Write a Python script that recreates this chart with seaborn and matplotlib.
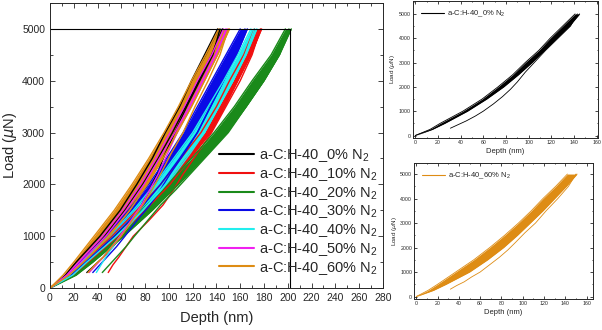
import numpy as np
import pandas as pd

import matplotlib.pyplot as plt
from matplotlib.lines import Line2D
from matplotlib.ticker import MultipleLocator

import seaborn as sns

# nitrogen content of each film and its colour
SAMPLES = ['0%', '10%', '20%', '30%', '40%', '50%', '60%']
COLORS = ['#000000', '#f01010', '#1a8a1a', '#0a0ae6', '#22eeee', '#f020f0', '#de8c14']

# loading branch: load steps (uN) and the left / right edge of each band (nm)
LOAD_UP = [0, 250, 500, 1000, 1500, 2000, 2500, 3000, 3500, 4000, 4500, 5000]
UP_LEFT = {
    '0%':  [0, 13, 22, 42, 59, 73, 86, 97, 109, 119, 130, 141],
    '10%': [0, 16, 28, 52, 73, 93, 110, 127, 140, 151, 163, 172],
    '20%': [0, 18, 31, 54, 77, 98, 119, 138, 155, 170, 186, 198],
    '30%': [0, 15, 25, 47, 66, 83, 98, 112, 124, 136, 148, 160],
    '40%': [0, 16, 27, 50, 70, 88, 104, 120, 133, 146, 158, 169],
    '50%': [0, 14, 24, 44, 61, 76, 89, 101, 113, 124, 136, 146],
    '60%': [0, 11, 20, 37, 54, 69, 83, 96, 108, 119, 131, 142],
}
UP_RIGHT = {
    '0%':  [0, 15, 26, 46, 63, 78, 91, 103, 114, 125, 136, 145],
    '10%': [0, 19, 32, 57, 80, 101, 118, 135, 147, 158, 169, 178],
    '20%': [0, 22, 36, 62, 86, 108, 129, 149, 165, 180, 193, 203],
    '30%': [0, 18, 30, 54, 75, 93, 109, 124, 135, 146, 157, 166],
    '40%': [0, 19, 31, 56, 78, 97, 113, 130, 142, 154, 165, 174],
    '50%': [0, 15, 26, 47, 64, 79, 92, 105, 117, 128, 139, 149],
    '60%': [0, 16, 28, 50, 67, 82, 95, 107, 119, 130, 141, 151],
}

# unloading branch
LOAD_DOWN = [5000, 4500, 4000, 3500, 3000, 2600, 2200, 1900, 1600, 1300,
             1000, 800, 600, 450, 300]
DOWN = {
    '0%':  [143, 137, 126, 115, 105, 97, 90, 84, 77, 69, 60, 53, 45, 38, 31],
    '10%': [177, 170, 160, 148, 136, 124, 112, 104, 95, 83, 70, 64, 58, 53, 49],
    '20%': [201, 193, 180, 165, 150, 134, 118, 106, 93, 82, 71, 64, 56, 50, 44],
    '30%': [164, 156, 146, 135, 124, 113, 101, 93, 84, 73, 63, 56, 48, 42, 36],
    '40%': [172, 164, 154, 142, 130, 118, 105, 94, 82, 70, 59, 53, 47, 43, 39],
    '50%': [148, 140, 129, 118, 107, 99, 91, 84, 77, 68, 59, 52, 45, 39, 33],
    '60%': [150, 143, 133, 122, 112, 102, 93, 86, 78, 69, 60, 52, 45, 38, 32],
}

MAX_LOAD = 5000
BOX_DEPTH = 202


def label(s):
    return 'a-C:H-40_' + s + ' N$_2$'


def curves(sample):
    rows = []
    for name, depth, load in [('left', UP_LEFT[sample], LOAD_UP),
                              ('right', UP_RIGHT[sample], LOAD_UP),
                              ('down', DOWN[sample], LOAD_DOWN)]:
        for d, p in zip(depth, load):
            rows.append({'sample': sample, 'curve': sample + name,
                         'depth': d, 'load': p})
    return pd.DataFrame(rows)


def draw(ax, samples, lw):
    for s in samples:
        c = COLORS[SAMPLES.index(s)]
        ax.fill_betweenx(LOAD_UP, UP_LEFT[s], UP_RIGHT[s], color=c, lw=0)
        sns.lineplot(data=curves(s), x='depth', y='load', units='curve',
                     estimator=None, sort=False, color=c, lw=lw, ax=ax,
                     legend=False)


def style(ax, size):
    ax.tick_params(which='both', direction='in', top=True, right=True,
                   labelsize=size, width=0.6)
    ax.tick_params(which='major', length=3.5)
    ax.tick_params(which='minor', length=2)
    for sp in ax.spines.values():
        sp.set_linewidth(0.7)


def main():
    sns.set_theme(style='ticks')
    plt.rcParams['font.family'] = ['Liberation Sans', 'DejaVu Sans']
    plt.rcParams['mathtext.fontset'] = 'custom'
    plt.rcParams['mathtext.rm'] = 'Liberation Sans'

    fig = plt.figure(figsize=(6.02, 3.30), dpi=100)

    # main panel
    ax = fig.add_axes([0.083, 0.127, 0.553, 0.864])
    draw(ax, SAMPLES, 1.0)
    box = pd.DataFrame({'depth': [0, BOX_DEPTH, BOX_DEPTH],
                        'load': [MAX_LOAD, MAX_LOAD, 0], 'u': [0, 0, 0]})
    sns.lineplot(data=box, x='depth', y='load', units='u', estimator=None,
                 sort=False, color='black', lw=0.8, ax=ax, legend=False)
    ax.set_xlim(0, 280)
    ax.set_ylim(0, 5500)
    ax.xaxis.set_major_locator(MultipleLocator(20))
    ax.xaxis.set_minor_locator(MultipleLocator(10))
    ax.yaxis.set_major_locator(MultipleLocator(1000))
    ax.yaxis.set_minor_locator(MultipleLocator(500))
    ax.set_xlabel('Depth (nm)', fontsize=10.5, labelpad=6)
    ax.set_ylabel('Load ($\\mu$N)', fontsize=10.5, labelpad=2)
    style(ax, 7.5)
    handles = [Line2D([], [], color=c, lw=1.5) for c in COLORS]
    ax.legend(handles, [label(s) for s in SAMPLES], loc='lower right',
              bbox_to_anchor=(1.0, 0.02), frameon=False, fontsize=10.5,
              handlelength=2.4, handletextpad=0.3, labelspacing=0.12,
              borderaxespad=0)

    # two small panels on the right
    for pos, s, top in [([0.686, 0.582, 0.307, 0.415], '0%', 5530),
                        ([0.688, 0.094, 0.297, 0.412], '60%', 5450)]:
        a = fig.add_axes(pos)
        draw(a, [s], 0.6)
        a.set_xlim(-2, 161 if s == '0%' else 166)
        a.set_ylim(-100, top)
        a.xaxis.set_major_locator(MultipleLocator(20))
        a.xaxis.set_minor_locator(MultipleLocator(10))
        a.yaxis.set_major_locator(MultipleLocator(1000))
        a.yaxis.set_minor_locator(MultipleLocator(500))
        a.set_xlabel('Depth (nm)', fontsize=5.5, labelpad=2)
        a.set_ylabel('Load ($\\mu$N)', fontsize=4.5, labelpad=1)
        style(a, 3.8)
        a.tick_params(which='major', length=2, pad=1.5)
        a.tick_params(which='minor', length=1)
        a.legend([Line2D([], [], color=COLORS[SAMPLES.index(s)], lw=0.8)],
                 [label(s)], loc='upper left', frameon=False, fontsize=5.5,
                 handlelength=3, handletextpad=0.4, borderaxespad=0.6)

    fig.savefig('out.png', dpi=100)


if __name__ == "__main__":
    main()
